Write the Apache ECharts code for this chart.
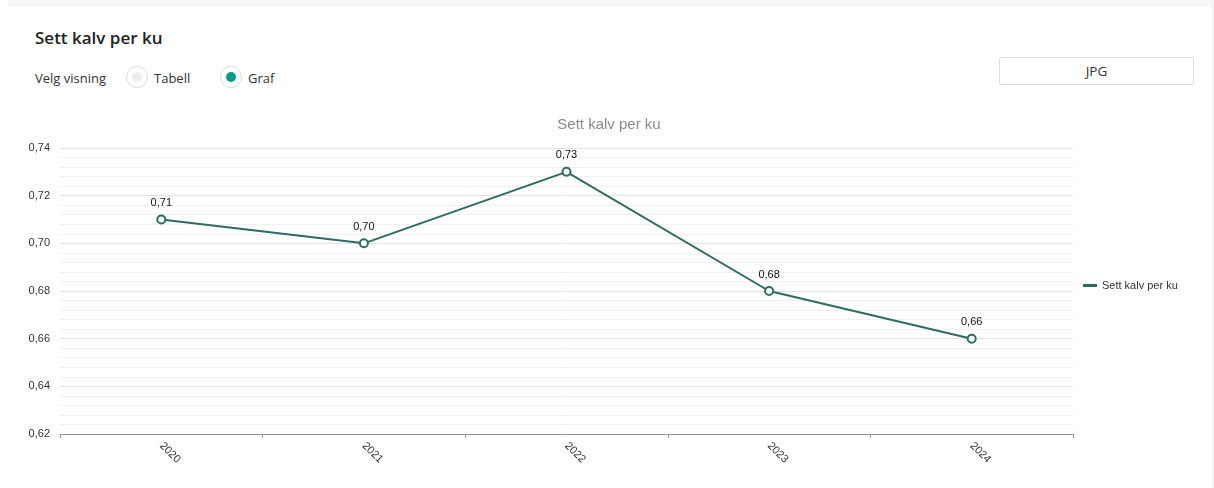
<!DOCTYPE html>
<html><head><meta charset="utf-8">
<script src="https://cdn.jsdelivr.net/npm/echarts@6/dist/echarts.min.js"></script>
<style>
html,body{margin:0;padding:0;width:1214px;height:488px;overflow:hidden;background:#fff;font-family:"Open Sans",sans-serif;}
#topstrip{position:absolute;left:8px;top:0;width:1206px;height:7px;background:#f6f6f6;}
#rightstrip{position:absolute;left:1212px;top:0;width:2px;height:488px;background:#f3f3f3;}
#title{position:absolute;left:35px;top:26px;font-size:17px;font-weight:600;color:#222;}
#velg{position:absolute;left:35px;top:69px;font-size:13px;color:#333;}
.radio{position:absolute;top:66px;width:22px;height:22px;border-radius:50%;border:1px solid #ddd;box-sizing:border-box;background:#fff;}
.radio .dot{position:absolute;left:5px;top:5px;width:10px;height:10px;border-radius:50%;}
.rlabel{position:absolute;top:69px;font-size:13px;color:#333;}
#jpg{position:absolute;left:999px;top:57px;width:195px;height:28px;box-sizing:border-box;border:1px solid #ddd;border-radius:2px;font-size:13.5px;color:#333;text-align:center;line-height:26px;}
#chart{position:absolute;left:0;top:0;width:1214px;height:488px;}
</style></head>
<body>
<div id="topstrip"></div>
<div id="rightstrip"></div>
<div id="title">Sett kalv per ku</div>
<div id="velg">Velg visning</div>
<div class="radio" style="left:126px;"><div class="dot" style="background:#eee;"></div></div>
<div class="rlabel" style="left:154px;">Tabell</div>
<div class="radio" style="left:220px;"><div class="dot" style="background:#0a9a8c;"></div></div>
<div class="rlabel" style="left:248px;">Graf</div>
<div id="jpg">JPG</div>
<div id="chart"></div>
<script>
const categories = ["2020", "2021", "2022", "2023", "2024"];
const values = [0.71, 0.70, 0.73, 0.68, 0.66];
const seriesName = "Sett kalv per ku";
const chartTitle = "Sett kalv per ku";

const fmt = v => Number(v).toFixed(2).replace('.', ',');
const chart = echarts.init(document.getElementById('chart'), null, {renderer: 'canvas'});
chart.setOption({
  animation: false,
  title: {text: chartTitle, left: 604, top: 112, textAlign: 'center',
    textStyle: {fontSize: 15, fontWeight: 'normal', color: '#8a8a8a', fontFamily: 'Liberation Sans, Arial, sans-serif'}},
  legend: {orient: 'vertical', left: 1078, top: 275, icon: 'rect', itemWidth: 14, itemHeight: 3,
    itemGap: 5, textStyle: {fontSize: 11, color: '#333', fontFamily: 'Liberation Sans, Arial, sans-serif'},
    data: [seriesName]},
  grid: {left: 60, right: 141, top: 148, bottom: 54, containLabel: false},
  xAxis: {type: 'category', data: categories, boundaryGap: true,
    axisLine: {lineStyle: {color: '#999'}},
    axisTick: {show: true, length: 4, lineStyle: {color: '#999'}},
    axisLabel: {rotate: -45, fontSize: 11, color: '#333', margin: 10,
      fontFamily: 'Liberation Sans, Arial, sans-serif'}},
  yAxis: {type: 'value', min: 0.62, max: 0.74, interval: 0.02,
    axisLine: {show: false}, axisTick: {show: false},
    axisLabel: {fontSize: 11, color: '#333', margin: 10, formatter: fmt,
      fontFamily: 'Liberation Sans, Arial, sans-serif'},
    splitLine: {lineStyle: {color: '#e3e3e3', width: 1}},
    minorTick: {show: false, splitNumber: 5},
    minorSplitLine: {show: true, lineStyle: {color: '#f0f0f0', width: 1}}},
  series: [{
    name: seriesName, type: 'line', data: values,
    symbol: 'emptyCircle', symbolSize: 8,
    lineStyle: {color: '#2e6b62', width: 2},
    itemStyle: {color: '#2e6b62', borderWidth: 2},
    label: {show: true, position: 'top', distance: 6, fontSize: 11, color: '#111',
      formatter: p => fmt(p.value), fontFamily: 'Liberation Sans, Arial, sans-serif'}
  }]
});
</script>
</body></html>
